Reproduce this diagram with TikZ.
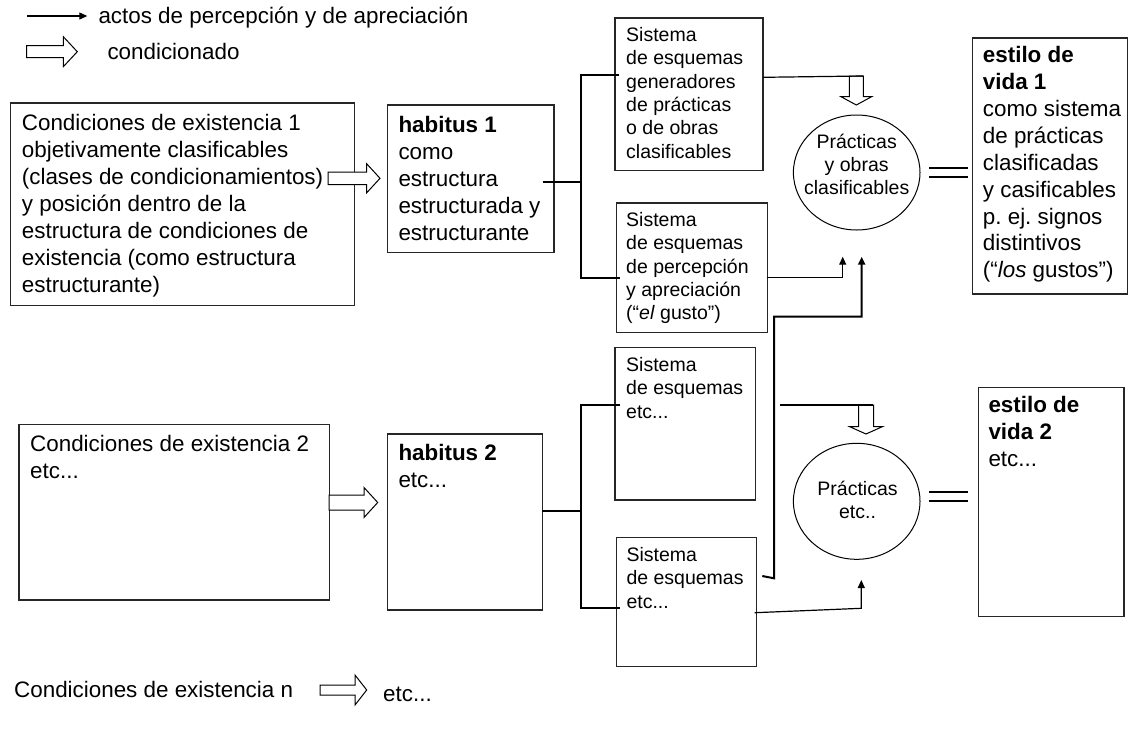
\documentclass[tikz,border=0pt]{standalone}
\usepackage{fontspec}
\setmainfont{Liberation Sans}
\usetikzlibrary{arrows.meta,shapes.geometric}
\frenchspacing
\newcommand\fbig{\fontsize{22.4pt}{26.9pt}\selectfont}
\newcommand\fsmall{\fontsize{19.5pt}{23.3pt}\selectfont}
\tikzset{
  % hollow block arrow: #1 head base, #2 total length, #3 half shaft, #4 half head
  pics/blockarrow/.style n args={4}{code={
    \draw[hollow] (0,-#3) -- (#1,-#3) -- (#1,-#4) -- (#2,0) -- (#1,#4) -- (#1,#3) -- (0,#3) -- cycle;}},
}
\begin{document}
\begin{tikzpicture}[x=1pt,y=-1pt,
  box/.style={draw=black!85,line width=1.2pt,rectangle,inner sep=0pt,anchor=north west},
  bigtext/.style={font=\fbig,align=left,inner sep=0pt,anchor=north west},
  smalltext/.style={font=\fsmall,align=left,inner sep=0pt,anchor=north west},
  wire/.style={line width=1.2pt},
  bar/.style={line width=2pt},
  tip/.style={-{Triangle[length=8pt,width=7pt]}},
  hollow/.style={draw=black,fill=white,line width=1pt,line join=miter},
  bubble/.style={draw,ellipse,line width=1pt,inner sep=0pt},
]
\useasboundingbox (0,0) rectangle (1129,734);

% legend
\coordinate (lg0) at (27,16);
\coordinate (lg1) at (87.3,16);
\draw[wire,tip] (lg0) -- (lg1);
\node[bigtext] (lgt1) at (98.3,4.6) {\strut actos de percepción y de apreciación};
\pic at (26.7,51.7) {blockarrow={36.6}{50.6}{6}{15}};
\node[bigtext] (lgt2) at (107.3,40.3) {\strut condicionado};

% boxes
\node[box,minimum width=344pt,minimum height=202.7pt] (c1) at (10,102.3) {};
\node[box,minimum width=166.6pt,minimum height=147.4pt] (h1) at (386.7,104.3) {};
\node[box,minimum width=148pt,minimum height=152.7pt] (s1) at (614.3,17.3) {};
\node[box,minimum width=151pt,minimum height=129.4pt] (s2) at (615.7,202.3) {};
\node[box,minimum width=155.5pt,minimum height=256pt] (e1) at (971.7,37.3) {};
\node[box,minimum width=310.7pt,minimum height=175.3pt] (c2) at (18.3,424) {};
\node[box,minimum width=155pt,minimum height=176pt] (h2) at (386.7,433.3) {};
\node[box,minimum width=140.7pt,minimum height=152.6pt] (s3) at (614.3,346.7) {};
\node[box,minimum width=140pt,minimum height=129.3pt] (s4) at (615.7,536.7) {};
\node[box,minimum width=145.6pt,minimum height=229pt] (e2) at (977.7,386.7) {};

% box texts
\node[bigtext] (c1t) at (21.7,111.9) {\strut Condiciones de existencia 1\\objetivamente clasificables\\(clases de condicionamientos)\\y posición dentro de la\\estructura de condiciones de\\existencia (como estructura\\estructurante)};
\node[bigtext] (h1t) at (398.3,113.6) {\strut\textbf{habitus 1}\\como\\estructura\\estructurada y\\estructurante};
\node[bigtext] (e1t) at (982.7,43.6) {\strut\textbf{estilo de}\\\textbf{vida 1}\\como sistema\\de prácticas\\clasificadas\\y casificables\\p. ej. signos\\distintivos\\(“\textit{los} gustos”)};
\node[bigtext] (c2t) at (30,432.9) {\strut Condiciones de existencia 2\\etc...};
\node[bigtext] (h2t) at (398.3,441.9) {\strut\textbf{habitus 2}\\etc...};
\node[bigtext] (e2t) at (988.3,393.6) {\strut\textbf{estilo de}\\\textbf{vida 2}\\etc...};
\node[smalltext] (s1t) at (626,25.1) {\strut Sistema\\de esquemas\\generadores\\de prácticas\\o de obras\\clasificables};
\node[smalltext] (s2t) at (626,210.1) {\strut Sistema\\de esquemas\\de percepción\\y apreciación\\(“\textit{el} gusto”)};
\node[smalltext] (s3t) at (626,355.1) {\strut Sistema\\de esquemas\\etc...};
\node[smalltext] (s4t) at (626.3,545.1) {\strut Sistema\\de esquemas\\etc...};

% practices
\node[bubble,minimum width=126.6pt,minimum height=115pt] (p1) at (856.7,172.5) {};
\node[smalltext,align=center,anchor=north] (p1t) at (856.7,131.8) {\strut Prácticas\\y obras\\clasificables};
\node[bubble,minimum width=126.6pt,minimum height=116pt] (p2) at (856.7,501.3) {};
\node[smalltext,align=center,anchor=north] (p2t) at (857.5,479.1) {\strut Prácticas\\etc..};

% conditioning arrows
\pic at (328,178.3) {blockarrow={38.7}{52}{6.3}{14.5}};
\pic at (329,502.5) {blockarrow={35}{48.7}{7.5}{15}};

% habitus 1 branches
\coordinate (h1o) at (542.7,181.7);
\coordinate (k1) at (580.7,181.7);
\coordinate (s1in) at (619.3,75);
\coordinate (s2in) at (620,278.3);
\draw[bar] (h1o) -- (k1);
\draw[bar] (s1in) -| (k1) |- (s2in);

% habitus 2 branches
\coordinate (h2o) at (541.7,510.7);
\coordinate (k2) at (580.7,510.7);
\coordinate (s3in) at (620,405);
\coordinate (s4in) at (619.7,607.7);
\draw[bar] (h2o) -- (k2);
\draw[bar] (s3in) -| (k2) |- (s4in);

% towards practices 1
\pic[rotate=-90] at (856.3,76) {blockarrow={20.7}{29}{7}{15.3}};
\coordinate (s1o) at (763.3,77.3);
\coordinate (p1top) at (863.3,76);
\draw[wire] (s1o) -- (p1top);
\coordinate (s2o) at (766.7,277.3);
\coordinate (p1a) at (842.7,256.7);
\draw[wire,tip] (s2o) -| (p1a);
\coordinate (hk) at (762.3,576);
\coordinate (v0) at (774,578.3);
\coordinate (v1) at (774,316.7);
\coordinate (p1b) at (861.7,256.7);
\draw[bar,tip] (hk) -- (v0) -- (v1) -| (p1b);
\draw[bar] (929.3,167.5) -- (967.7,167.5) (929.3,177) -- (967.7,177);

% towards practices 2
\pic[rotate=-90] at (866,405) {blockarrow={21.7}{29}{7.5}{16.3}};
\coordinate (f0) at (780,405);
\coordinate (f1) at (873.3,405);
\draw[bar] (f0) -- (f1);
\coordinate (s4o) at (754.7,612.7);
\coordinate (s4k) at (861.3,608.3);
\coordinate (p2a) at (861.3,580);
\draw[wire,tip] (s4o) -- (s4k) -- (p2a);
\draw[bar] (929.3,491.7) -- (967.7,491.7) (929.3,501) -- (967.7,501);

% further conditions
\node[bigtext] (cn) at (14,678.6) {\strut Condiciones de existencia n};
\pic at (320,690) {blockarrow={35}{46.7}{5}{15}};
\node[bigtext] (cnetc) at (383,682.6) {\strut etc...};
\end{tikzpicture}
\end{document}
